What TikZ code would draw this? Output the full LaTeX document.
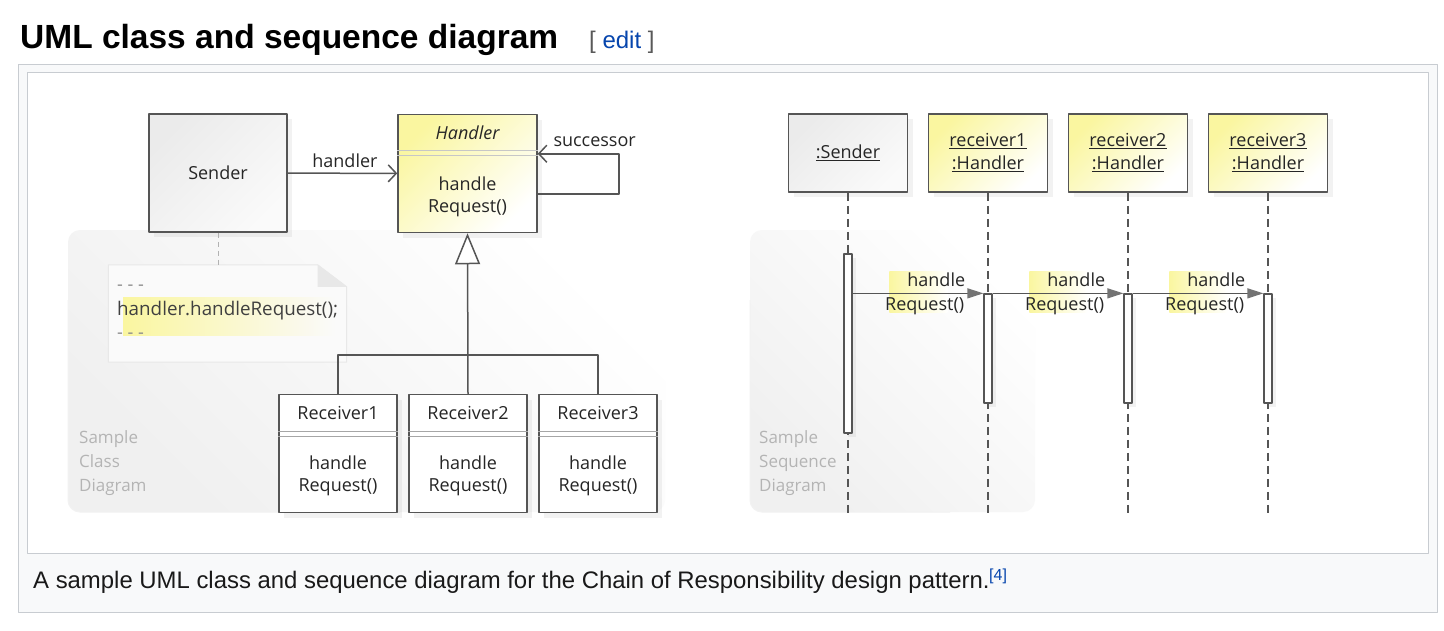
\documentclass[tikz,border=0pt]{standalone}
\usepackage{fontspec}
\setmainfont{Liberation Sans}
\newfontfamily\umlfont{Open Sans}
\usetikzlibrary{arrows.meta,shadows,calc,positioning}

\definecolor{framegray}{HTML}{C8CCD1}
\definecolor{framebg}{HTML}{F8F9FA}
\definecolor{linkblue}{HTML}{0645AD}
\definecolor{umlline}{HTML}{555555}
\definecolor{umlyellow}{HTML}{FAF6A0}
\definecolor{umlgray}{HTML}{EBEBEB}
\definecolor{panelgray}{HTML}{B4B4B4}

\tikzset{
  umlbox/.style={draw=umlline, line width=1.5pt, inner sep=0pt, minimum width=118pt, minimum height=118pt,
    align=center, font=\umlfont\fontsize{18}{23}\selectfont, text=black!85,
    drop shadow={shadow xshift=5pt, shadow yshift=-5pt, opacity=.1}},
  yellowbox/.style={umlbox, top color=umlyellow, bottom color=white, shading angle=45},
  graybox/.style={umlbox, top color=umlgray, bottom color=black!2, shading angle=45},
  whitebox/.style={umlbox, fill=white},
  objbox/.style={minimum width=119pt, minimum height=78pt},
  umltext/.style={font=\umlfont\fontsize{18}{23}\selectfont, text=black!85, inner sep=0pt},
  paneltext/.style={font=\umlfont\fontsize{17}{24}\selectfont, text=panelgray, inner sep=0pt},
  sepline/.style={draw=black!35, line width=1pt},
  assoc/.style={draw=umlline, line width=1.5pt, -{Straight Barb[length=8pt,width=17pt]}},
  generalize/.style={draw=umlline, line width=1.5pt, -{Triangle[open,length=31pt,width=25pt,fill=white]}},
  msg/.style={draw=umlline, line width=1.3pt, -{Triangle[length=16pt,width=10pt,color=black!55,fill=black!55]}},
  lifeline/.style={draw=umlline, line width=1.5pt, dash pattern=on 8pt off 5pt},
  actbar/.style={draw=umlline, line width=1.3pt, fill=white, inner sep=0pt, minimum width=8pt},
  panel/.style={rounded corners=12pt, top color=white, bottom color=black!6, shading angle=-45},
}

\begin{document}
\begin{tikzpicture}[x=1pt, y=-1pt, line join=round]
\useasboundingbox (0,0) rectangle (1444,630);
\fill[white] (0,0) rectangle (1444,630);

% heading
\node[anchor=base west, inner sep=0, font=\fontsize{33.5}{36}\selectfont\bfseries] (title) at (20,48) {UML class and sequence diagram};
\node[anchor=base west, inner sep=0, font=\fontsize{24}{26}\selectfont, text=black!65] (edit) at (589,48) {[ \textcolor{linkblue}{edit} ]};

% thumbnail frame
\draw[framegray, line width=1.5pt, fill=framebg] (18.5,64.5) rectangle (1437.5,612.5);
\draw[framegray, line width=1.5pt, fill=white] (27.5,72.5) rectangle (1428.5,553.5);

% caption
\node[anchor=base west, inner sep=0, font=\fontsize{23.9}{26}\selectfont, text=black!90] (caption) at (33,588) {A sample UML class and sequence diagram for the Chain of Responsibility design pattern.};
\node[anchor=base west, inner sep=0, font=\fontsize{16}{18}\selectfont, text=linkblue] (ref) at (989,580) {[4]};

% ---------- class diagram ----------
\shade[panel] (68,230) rectangle (665,512);
\draw[black!5, line width=1pt, rounded corners=12pt] (68,300) |- (400,512);
\node[paneltext, anchor=base west] (cls1) at (79,443) {Sample};
\node[paneltext, anchor=base west] (cls2) at (79,467) {Class};
\node[paneltext, anchor=base west] (cls3) at (79,491) {Diagram};

% note
\node[minimum width=238pt, minimum height=97pt, inner sep=0] (note) at (227.5,313.5) {};
\filldraw[draw=black!9, line width=1pt, fill=black!2] (note.north west) -- ($(note.north east)+(-29,0)$) -- ($(note.north east)+(0,22)$) -- (note.south east) -- (note.south west) -- cycle;
\fill[black!9] ($(note.north east)+(-29,0)$) -- ($(note.north east)+(-29,22)$) -- ($(note.north east)+(0,22)$) -- cycle;
\shade[left color=umlyellow, right color=black!2] (123,297) rectangle (335,335);
\node[umltext, anchor=base west, text=black!45] (dots1) at (117,290) {- - -};
\node[umltext, anchor=base west, text=black!75, font=\umlfont\fontsize{18.8}{23}\selectfont] (code) at (117,315) {handler.handleRequest();};
\node[umltext, anchor=base west, text=black!45] (dots2) at (117,338) {- - -};

% classes
\node[graybox, minimum width=138pt] (sender) at (218,173) {Sender};
\node[yellowbox, minimum width=139pt] (handler) at (467.5,173.5) {};
\node[umltext, anchor=base, font=\umlfont\itshape\fontsize{18}{23}\selectfont] (handlername) at (467.5,139) {Handler};
\draw[sepline, draw=black!22] ($(handler.north west)+(0,37)$) -- ($(handler.north east)+(0,37)$);
\draw[sepline, draw=black!22] ($(handler.north west)+(0,42)$) -- ($(handler.north east)+(0,42)$);
\node[umltext, anchor=base] (hop1) at (467.5,190) {handle};
\node[umltext, anchor=base] (hop2) at (467.5,212) {Request()};

\foreach \i/\x in {1/338,2/468,3/598} {
  \node[whitebox] (recv\i) at (\x,453.5) {};
  \node[umltext, anchor=base] (recvname\i) at (\x,419) {Receiver\i};
  \draw[sepline] ($(recv\i.north west)+(0,38)$) -- ($(recv\i.north east)+(0,38)$);
  \draw[sepline] ($(recv\i.north west)+(0,43)$) -- ($(recv\i.north east)+(0,43)$);
  \node[umltext, anchor=base] (rop\i) at (\x,469) {handle};
  \node[umltext, anchor=base] (rreq\i) at (\x,491) {Request()};
}

% relations
\draw[dashed, draw=black!30, line width=1pt, dash pattern=on 5pt off 4pt] (sender.south) -- (sender.south |- note.north);
\draw[assoc] (sender) -- node[umltext, pos=1, anchor=base east, xshift=-19pt, yshift=6pt] (assoclbl) {handler} (handler);
\draw[assoc] ($(handler.north east)+(0,80)$) -- ++(81,0) |- node[umltext, pos=1, anchor=base west, xshift=15pt, yshift=7pt] (succlbl) {successor} ($(handler.north east)+(0,40)$);
\coordinate (gen) at (468,355);
\draw[draw=umlline, line width=1.5pt] (recv1.north) |- (gen) -| (recv3.north);
\draw[generalize] (recv2.north) -- (handler.south);

% ---------- sequence diagram ----------
\shade[panel] (750,230) rectangle (1035,512);
\draw[black!5, line width=1pt, rounded corners=12pt] (750,300) |- (950,512);
\node[paneltext, anchor=base west] (seq1) at (759,443) {Sample};
\node[paneltext, anchor=base west] (seq2) at (759,467) {Sequence};
\node[paneltext, anchor=base west] (seq3) at (759,491) {Diagram};

\node[graybox, objbox] (sobj) at (848,153) {\underline{:Sender}};
\foreach \i/\x in {1/988,2/1128,3/1268}
  \node[yellowbox, objbox] (robj\i) at (\x,153) {\underline{receiver\i}\\\underline{:Handler}};

% lifelines
\foreach \o in {sobj,robj1,robj2,robj3} {
  \coordinate (\o end) at (\o.south |- 0,513);
  \draw[lifeline] (\o.south) -- (\o end);
}

% activations
\node[actbar, minimum height=179pt, drop shadow={shadow xshift=4pt, shadow yshift=-4pt, opacity=.1}] (sact) at (848,343.5) {};
\foreach \i/\x in {1/988,2/1128,3/1268}
  \node[actbar, minimum height=109pt, drop shadow={shadow xshift=4pt, shadow yshift=-4pt, opacity=.1}] (ract\i) at (\x,348.5) {};

% messages
\foreach \a/\b in {sact/ract1,ract1/ract2,ract2/ract3} {
  \shade[left color=umlyellow, right color=white] ($(\b.north west)+(-94,-22)$) rectangle ($(\b.north west)+(-36,19)$);
  \draw[msg] (\a.east |- \b.north) -- (\b.north west);
  \node[umltext, anchor=base east] (\b top) at ($(\b.north west)+(-18,-7)$) {handle};
  \node[umltext, anchor=base east] (\b bot) at ($(\b.north west)+(-19,17)$) {Request()};
}
\end{tikzpicture}
\end{document}
